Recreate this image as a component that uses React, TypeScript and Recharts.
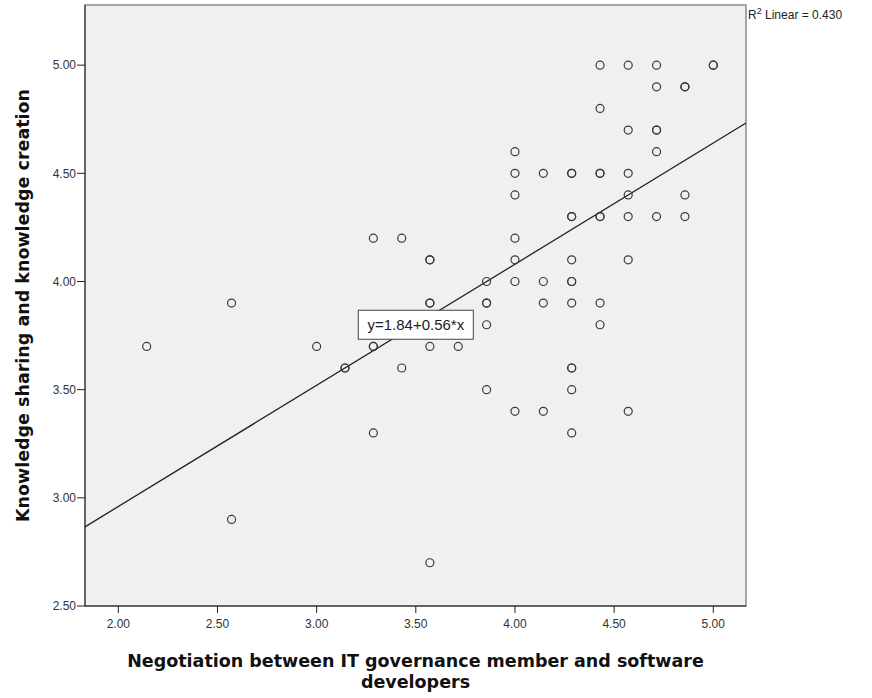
import { ReferenceArea, ReferenceDot, ReferenceLine, Scatter, ScatterChart, XAxis, YAxis } from "recharts";

// x = negotiation score, y = knowledge sharing score (duplicates = overlapping cases)
const negotiation = [
  2.143, 2.571, 2.571, 3.0, 3.143, 3.143, 3.286, 3.286, 3.286, 3.286, 3.429, 3.429,
  3.571, 3.571, 3.571, 3.571, 3.571, 3.571, 3.714,
  3.857, 3.857, 3.857, 3.857, 3.857,
  4.0, 4.0, 4.0, 4.0, 4.0, 4.0, 4.0,
  4.143, 4.143, 4.143, 4.143,
  4.286, 4.286, 4.286, 4.286, 4.286, 4.286, 4.286, 4.286, 4.286, 4.286, 4.286, 4.286,
  4.429, 4.429, 4.429, 4.429, 4.429, 4.429, 4.429, 4.429,
  4.571, 4.571, 4.571, 4.571, 4.571, 4.571, 4.571,
  4.714, 4.714, 4.714, 4.714, 4.714, 4.714,
  4.857, 4.857, 4.857, 4.857,
  5.0, 5.0,
];
const knowledge = [
  3.7, 3.9, 2.9, 3.7, 3.6, 3.6, 4.2, 3.7, 3.7, 3.3, 4.2, 3.6,
  4.1, 4.1, 3.9, 3.9, 3.7, 2.7, 3.7,
  4.0, 3.9, 3.9, 3.8, 3.5,
  4.6, 4.5, 4.4, 4.2, 4.1, 4.0, 3.4,
  4.5, 4.0, 3.9, 3.4,
  4.5, 4.5, 4.3, 4.3, 4.1, 4.0, 4.0, 3.9, 3.6, 3.6, 3.5, 3.3,
  5.0, 4.8, 4.5, 4.5, 4.3, 4.3, 3.9, 3.8,
  5.0, 4.7, 4.5, 4.4, 4.3, 4.1, 3.4,
  5.0, 4.9, 4.7, 4.7, 4.6, 4.3,
  4.9, 4.9, 4.4, 4.3,
  5.0, 5.0,
];
const xTicks = [2, 2.5, 3, 3.5, 4, 4.5, 5];
const yTicks = [2.5, 3, 3.5, 4, 4.5, 5];
const intercept = 1.84;
const slope = 0.56;
const rSquared = "0.430";

const xDomain = [1.832, 5.165];
const yDomain = [2.5, 5.278];

const data = negotiation.map((x, i) => ({ x, y: knowledge[i] }));
const fit = (x: number) => intercept + slope * x;

const font = "'Liberation Sans', Arial, sans-serif";
const titleFont = "'DejaVu Sans', Verdana, sans-serif";
const tickStyle = { fill: "#333", fontSize: 12, fontFamily: font };

const Ring = (p: any) => <circle cx={p.cx} cy={p.cy} r={4} fill="none" stroke="#3a3a3a" strokeWidth={1.2} />;

const EqBox = (p: any) => (
  <g>
    <rect x={p.cx - 57.5} y={p.cy - 14.5} width={115} height={29} fill="#fff" stroke="#444" strokeWidth={1} />
    <text x={p.cx} y={p.cy + 5.5} textAnchor="middle" fontSize={15} fontFamily={font} fill="#222">
      y={intercept.toFixed(2)}+{slope.toFixed(2)}*x
    </text>
  </g>
);

const XTitle = (p: any) => {
  const { x, width } = p.viewBox;
  const cx = x + width / 2;
  return (
    <text textAnchor="middle" fontSize={17.5} fontWeight="bold" fontFamily={titleFont} fill="#111">
      <tspan x={cx} y={667}>Negotiation between IT governance member and software</tspan>
      <tspan x={cx} y={688}>developers</tspan>
    </text>
  );
};

const YTitle = () => (
  <text x={0} y={0} transform="translate(29,305.5) rotate(-90)" textAnchor="middle" fontSize={17.5} fontWeight="bold" fontFamily={titleFont} fill="#111">
    Knowledge sharing and knowledge creation
  </text>
);

export default function App() {
  return (
    <div style={{ position: "absolute", left: 0, top: 0, width: 872, height: 698, background: "#fff" }}>
      <ScatterChart width={872} height={698} margin={{ top: 5, right: 126, bottom: 62, left: 0 }}>
        <ReferenceArea x1={xDomain[0]} x2={xDomain[1]} y1={yDomain[0]} y2={yDomain[1]} fill="#f0f0f0" fillOpacity={1} stroke="#8a8a8a" strokeWidth={1.5} />
        <XAxis
          type="number"
          dataKey="x"
          domain={xDomain}
          ticks={xTicks}
          allowDataOverflow
          tickFormatter={(v: number) => v.toFixed(2)}
          tick={tickStyle}
          tickSize={7}
          tickMargin={6}
          height={30}
          stroke="#222"
          label={<XTitle />}
        />
        <YAxis
          type="number"
          dataKey="y"
          domain={yDomain}
          ticks={yTicks}
          allowDataOverflow
          tickFormatter={(v: number) => v.toFixed(2)}
          tick={tickStyle}
          tickSize={8}
          tickMargin={1}
          width={85}
          stroke="#222"
          label={<YTitle />}
        />
        <ReferenceLine
          segment={[
            { x: xDomain[0], y: fit(xDomain[0]) },
            { x: xDomain[1], y: fit(xDomain[1]) },
          ]}
          stroke="#222"
          strokeWidth={1.3}
        />
        <Scatter data={data} shape={<Ring />} isAnimationActive={false} />
        <ReferenceDot x={3.5} y={3.8} shape={<EqBox />} />
      </ScatterChart>
      <div style={{ position: "absolute", left: 748, top: 6, fontFamily: font, fontSize: 12, color: "#222", whiteSpace: "nowrap" }}>
        R<sup style={{ fontSize: 9 }}>2</sup> Linear = {rSquared}
      </div>
    </div>
  );
}
